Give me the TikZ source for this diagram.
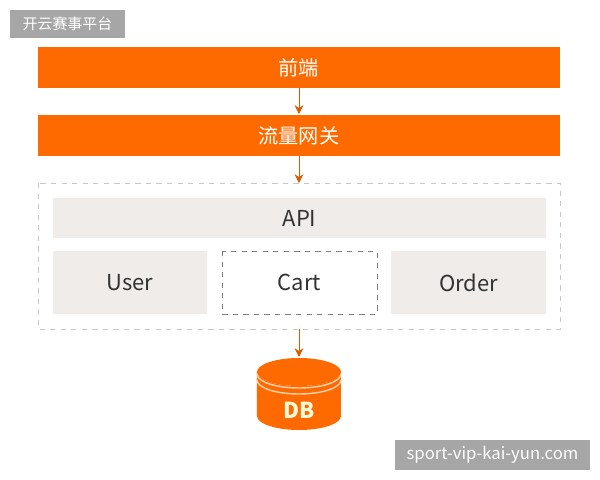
\documentclass[tikz,border=0pt]{standalone}
\usepackage{fontspec}
\setmainfont{Noto Sans CJK SC}
\usetikzlibrary{arrows.meta}
\definecolor{kyorange}{HTML}{FF6A00}
\definecolor{kygray}{HTML}{EFECEA}
\definecolor{kymark}{HTML}{A6A6A6}
\definecolor{kyline}{HTML}{C8C8C8}
\tikzset{
  orangebar/.style={fill=kyorange},
  greybox/.style={fill=kygray},
  bartext/.style={text=white, font=\fontsize{11.5}{13}\selectfont},
  boxtext/.style={text=black!80, font=\fontsize{12.5}{14}\selectfont},
  link/.style={draw=kyorange!85!black, -{Stealth[length=5pt,width=5pt]}},
  tagbox/.style={fill=kymark}
}
\begin{document}
\begin{tikzpicture}[x=0.02cm, y=-0.02cm]
  \useasboundingbox (0,0) rectangle (600,480);
  % corner label
  \fill[tagbox] (10,10) rectangle (125,38);
  \node[text=white, font=\fontsize{8.5}{10}\selectfont] (brand) at (67.5,24) {开云赛事平台};

  % front bars
  \fill[orangebar] (38,47) rectangle (560,88);
  \node[bartext] (front) at (299,67.5) {前端};
  \fill[orangebar] (38,115) rectangle (560,156);
  \node[bartext] (gate) at (299,135.5) {流量网关};

  % services
  \draw[kyline, dashed] (38,183) rectangle (560,329);
  \coordinate (svctop) at (299,183);
  \coordinate (svcbot) at (299,329);
  \fill[greybox] (53,198) rectangle (546,238);
  \node[boxtext] (api) at (299.5,218) {API};
  \fill[greybox] (53,251) rectangle (207,314);
  \node[boxtext] (user) at (130,282.5) {User};
  \draw[gray, dashed] (222,251) rectangle (377,314);
  \node[boxtext] (cart) at (299.5,282.5) {Cart};
  \fill[greybox] (391,251) rectangle (546,314);
  \node[boxtext] (order) at (468.5,282.5) {Order};

  % database
  \fill[kyorange] (257,372) arc[start angle=180, end angle=360, x radius=42, y radius=-14]
    -- (341,416) arc[start angle=0, end angle=-180, x radius=42, y radius=-14] -- cycle;
  \fill[kyorange] (299,372) ellipse[x radius=42, y radius=14];
  \draw[white!70!kyorange, line width=0.8pt] (257,380) arc[start angle=180, end angle=360, x radius=42, y radius=-14];
  \draw[white!70!kyorange, line width=0.8pt] (257,374) arc[start angle=180, end angle=360, x radius=42, y radius=-14];
  \node[text=white!85!yellow, font=\bfseries\fontsize{12.5}{14}\selectfont] (db) at (299,410) {DB};
  \coordinate (dbtop) at (299,357);

  % watermark
  \fill[tagbox] (395,440) rectangle (590,470);
  \node[text=white, font=\fontsize{9.5}{11}\selectfont] (site) at (492.5,455) {sport-vip-kai-yun.com};

  % links
  \coordinate (frontbot) at (299,88);
  \coordinate (gatetop) at (299,114);
  \coordinate (gatebot) at (299,156);
  \draw[link] (frontbot) -- (gatetop);
  \draw[link] (gatebot) -- (svctop);
  \draw[link] (svcbot) -- (dbtop);
\end{tikzpicture}
\end{document}
